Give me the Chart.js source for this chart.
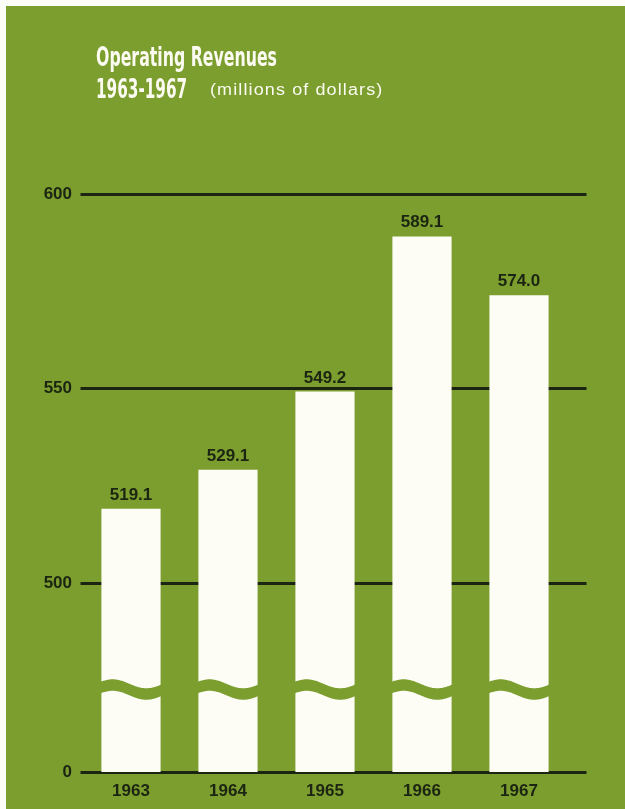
<!DOCTYPE html>
<html>
<head>
<meta charset="utf-8">
<script src="https://cdn.jsdelivr.net/npm/chart.js@4/dist/chart.umd.min.js"></script>
<style>
  html, body { margin: 0; padding: 0; background: #fdfdf8; }
  #wrap { position: relative; width: 625px; height: 809px; overflow: hidden; }
  #wrap canvas { position: absolute; left: 0; top: 0; }
  .head { position: absolute; color: #fbfbf2; white-space: nowrap; transform-origin: 0 0; }
  #t1, #t2 { font-family: "Liberation Sans Narrow", "DejaVu Sans Condensed", "Liberation Sans", sans-serif;
             font-weight: bold; font-size: 27px; line-height: 27px; }
  #t1 { left: 96px; top: 43px; }
  #t2 { left: 96px; top: 75px; }
  #t3 { left: 210px; top: 82px; font-family: "Liberation Sans", Arial, sans-serif;
        font-size: 16px; line-height: 16px; letter-spacing: 1px; }
</style>
</head>
<body>
<div id="wrap">
  <canvas id="chart" width="625" height="809"></canvas>
  <div class="head" id="t1">Operating Revenues</div>
  <div class="head" id="t2">1963-1967</div>
  <div class="head" id="t3">(millions of dollars)</div>
</div>
<script>
// Operating revenues, millions of dollars
const categories = ['1963', '1964', '1965', '1966', '1967'];
const revenues = [519.1, 529.1, 549.2, 589.1, 574.0];
const yTickLabels = [0, 500, 550, 600];

// The value axis is broken: the "0" rule sits where 451.4 would fall,
// and a wavy cut crosses every bar at 472.6.
const axisFloor = 451.4;
const axisTop = 600;
const breakValue = 472.6;

const GREEN = '#7b9e2f';
const INK = '#1c2512';
const BAR = '#fdfdf6';

// squeeze the condensed heading lines to their set widths
function fitWidth(id, w) {
  const el = document.getElementById(id);
  const s = w / el.offsetWidth;
  el.style.transform = 'scaleX(' + s + ')';
}
fitWidth('t1', 181);
fitWidth('t2', 91);
fitWidth('t3', 173);

const panel = {
  id: 'panel',
  beforeDraw(chart) {
    const { ctx, width, height } = chart;
    ctx.save();
    ctx.fillStyle = GREEN;
    ctx.fillRect(6, 6, width - 6, height - 6);
    ctx.restore();
  }
};

// heavy horizontal rules at each value tick, running past the last bar
const rules = {
  id: 'rules',
  beforeDatasetsDraw(chart) {
    const { ctx, chartArea, scales } = chart;
    const y = scales.y;
    ctx.save();
    ctx.strokeStyle = INK;
    ctx.lineWidth = 3;
    y.ticks.forEach(t => {
      const py = Math.round(y.getPixelForValue(t.value)) + 0.5;
      ctx.beginPath();
      ctx.moveTo(chartArea.left - 2, py);
      ctx.lineTo(chartArea.right + 19, py);
      ctx.stroke();
    });
    ctx.restore();
  }
};

// wavy break band cut through each bar, then the value above it
const breakAndLabels = {
  id: 'breakAndLabels',
  afterDatasetsDraw(chart) {
    const { ctx, scales } = chart;
    const meta = chart.getDatasetMeta(0);
    const yc = scales.y.getPixelForValue(breakValue);
    ctx.save();
    ctx.fillStyle = GREEN;
    meta.data.forEach(bar => {
      const x0 = bar.x - bar.width / 2 - 1;
      const x1 = bar.x + bar.width / 2 + 1;
      const w = x1 - x0;
      const edge = t => yc - 5.75 - 4.5 * Math.cos(2 * Math.PI * (t - 0.2) / 1.1);
      ctx.beginPath();
      for (let i = 0; i <= 40; i++) {
        const t = i / 40;
        const px = x0 + t * w;
        if (i === 0) ctx.moveTo(px, edge(t)); else ctx.lineTo(px, edge(t));
      }
      for (let i = 40; i >= 0; i--) {
        const t = i / 40;
        ctx.lineTo(x0 + t * w, edge(t) + 11.5);
      }
      ctx.closePath();
      ctx.fill();
    });
    ctx.fillStyle = INK;
    ctx.font = 'bold 17px "Liberation Sans", Arial, sans-serif';
    ctx.textAlign = 'center';
    ctx.textBaseline = 'alphabetic';
    meta.data.forEach((bar, i) => {
      ctx.fillText(revenues[i].toFixed(1), bar.x, bar.y - 9);
    });
    ctx.restore();
  }
};

new Chart(document.getElementById('chart'), {
  type: 'bar',
  data: {
    labels: categories,
    datasets: [{
      data: revenues,
      backgroundColor: BAR,
      borderWidth: 0,
      categoryPercentage: 1,
      barPercentage: 0.61
    }]
  },
  options: {
    responsive: false,
    animation: false,
    events: [],
    layout: { padding: { left: 0, right: 57.5, top: 194, bottom: 0 } },
    plugins: { legend: { display: false }, tooltip: { enabled: false }, title: { display: false } },
    scales: {
      x: {
        grid: { display: false, drawTicks: false },
        border: { display: false },
        ticks: {
          color: INK,
          padding: 9,
          font: { family: '"Liberation Sans", Arial, sans-serif', size: 17, weight: 'bold' }
        },
        afterFit(scale) { scale.height = 37; }
      },
      y: {
        min: axisFloor,
        max: axisTop,
        grid: { display: false, drawTicks: false },
        border: { display: false },
        afterBuildTicks(scale) {
          scale.ticks = yTickLabels.map(v => ({ value: v === 0 ? axisFloor : v, label: String(v) }));
        },
        ticks: {
          color: INK,
          padding: 10.5,
          font: { family: '"Liberation Sans", Arial, sans-serif', size: 17, weight: 'bold' },
          callback(value) {
            return Math.abs(value - axisFloor) < 1e-6 ? '0' : String(value);
          }
        },
        afterFit(scale) { scale.width = 82.5; }
      }
    }
  },
  plugins: [panel, rules, breakAndLabels]
});
</script>
</body>
</html>
